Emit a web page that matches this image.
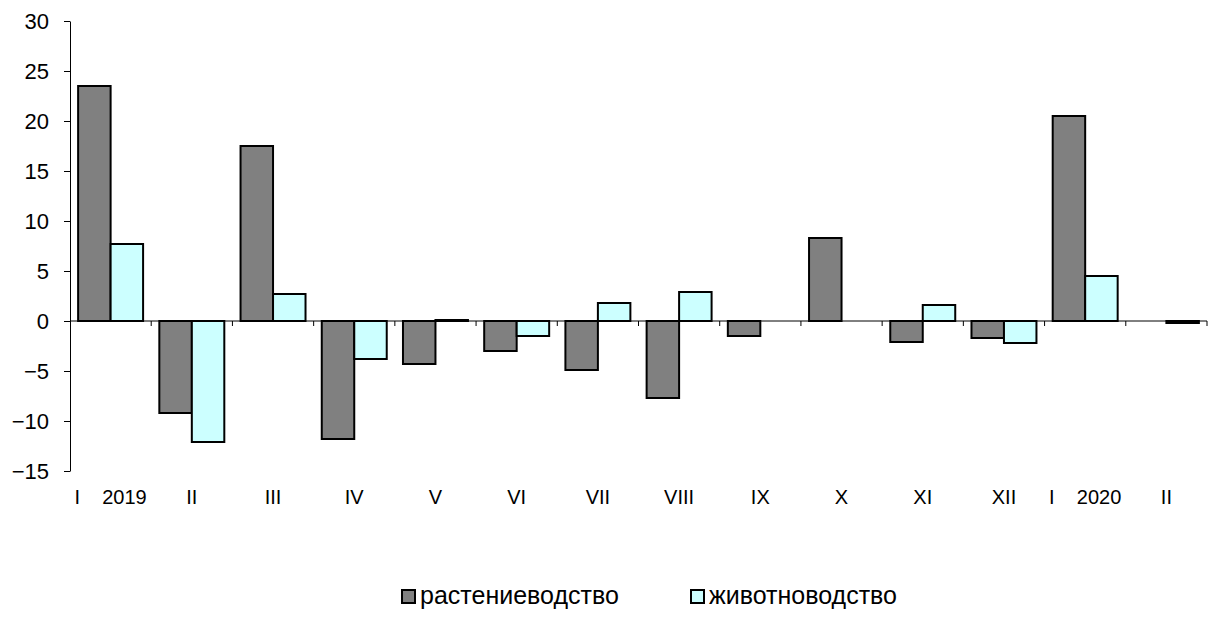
<!DOCTYPE html>
<html>
<head>
<meta charset="utf-8">
<script src="https://cdn.jsdelivr.net/npm/d3@7"></script>
<style>
  body { margin: 0; background: #fff; }
  text { font-family: Arial, "Liberation Sans", sans-serif; fill: #000; }
</style>
</head>
<body>
<div id="chart"></div>
<script>
// Data
const categories = ["I 2019", "II", "III", "IV", "V", "VI", "VII", "VIII", "IX", "X", "XI", "XII", "I 2020", "II 2020"];
const tickLabels = ["I\u00a0\u00a0\u00a0\u00a02019", "II", "III", "IV", "V", "VI", "VII", "VIII", "IX", "X", "XI", "XII", "I\u00a0\u00a0\u00a0\u00a02020", "II"];
const seriesNames = ["растениеводство", "животноводство"];
const cropValues = [23.5, -9.2, 17.5, -11.8, -4.3, -3.0, -4.9, -7.7, -1.5, 8.3, -2.1, -1.7, 20.5, null];
const livestockValues = [7.7, -12.1, 2.7, -3.8, 0.1, -1.5, 1.8, 2.9, null, null, 1.6, -2.2, 4.5, -0.2];
const yTicks = [-15, -10, -5, 0, 5, 10, 15, 20, 25, 30];
const colors = ["#808080", "#ccffff"];

const rows = categories.map((c, i) => ({
  cat: c,
  values: [cropValues[i], livestockValues[i]]
}));

// Dimensions
const width = 1211;
const height = 617;
const margin = { top: 21, right: 4, bottom: 146, left: 70 };

const svg = d3
  .select("#chart")
  .append("svg")
  .attr("width", width)
  .attr("height", height);

// Scales
const x = d3
  .scaleBand()
  .domain(categories)
  .range([margin.left, width - margin.right])
  .paddingInner(0.2)
  .paddingOuter(0.1);

const xSeries = d3
  .scaleBand()
  .domain([0, 1])
  .range([0, x.bandwidth()]);

const y = d3
  .scaleLinear()
  .domain([-15, 30])
  .range([height - margin.bottom, margin.top]);

// Y axis
const yAxis = d3
  .axisLeft(y)
  .tickValues(yTicks)
  .tickSize(6)
  .tickSizeOuter(0)
  .tickPadding(15);

const gy = svg
  .append("g")
  .attr("transform", `translate(${margin.left}, 0)`)
  .call(yAxis);
gy.selectAll("text").style("font-size", "22px").attr("dy", "0.36em");
gy.selectAll("line, path").attr("stroke", "#000");

// Bars
const groups = svg
  .append("g")
  .selectAll("g")
  .data(rows)
  .join("g")
  .attr("transform", (d) => `translate(${x(d.cat)}, 0)`);

groups
  .selectAll("rect")
  .data((d) => d.values.map((v, i) => ({ v, i })).filter((e) => e.v !== null))
  .join("rect")
  .attr("x", (d) => xSeries(d.i))
  .attr("width", xSeries.bandwidth())
  .attr("y", (d) => y(Math.max(0, d.v)))
  .attr("height", (d) => Math.abs(y(d.v) - y(0)))
  .attr("fill", (d) => colors[d.i])
  .attr("stroke", "#000")
  .attr("stroke-width", 2);

// X axis line at zero with ticks at category boundaries
const boundaries = categories.map((c) => x(c) - x.step() * x.paddingOuter());
boundaries.push(width - margin.right);

svg
  .append("line")
  .attr("x1", margin.left)
  .attr("x2", width - margin.right)
  .attr("y1", y(0))
  .attr("y2", y(0))
  .attr("stroke", "#000");

svg
  .append("g")
  .selectAll("line")
  .data(boundaries.slice(1))
  .join("line")
  .attr("x1", (d) => d)
  .attr("x2", (d) => d)
  .attr("y1", y(0))
  .attr("y2", y(0) + 5)
  .attr("stroke", "#000");

// Category labels
svg
  .append("g")
  .selectAll("text")
  .data(categories)
  .join("text")
  .attr("x", (d) => x(d) + x.bandwidth() / 2)
  .attr("y", 504)
  .attr("text-anchor", "middle")
  .style("font-size", "20px")
  .text((d, i) => tickLabels[i]);

// Legend
const legendX = [402, 691];
const legend = svg
  .append("g")
  .selectAll("g")
  .data(seriesNames)
  .join("g")
  .attr("transform", (d, i) => `translate(${legendX[i]}, 590)`);

legend
  .append("rect")
  .attr("width", 13)
  .attr("height", 13)
  .attr("fill", (d, i) => colors[i])
  .attr("stroke", "#000")
  .attr("stroke-width", 2);

legend
  .append("text")
  .attr("x", 18)
  .attr("y", 14)
  .style("font-size", "25px")
  .text((d) => d);
</script>
</body>
</html>
